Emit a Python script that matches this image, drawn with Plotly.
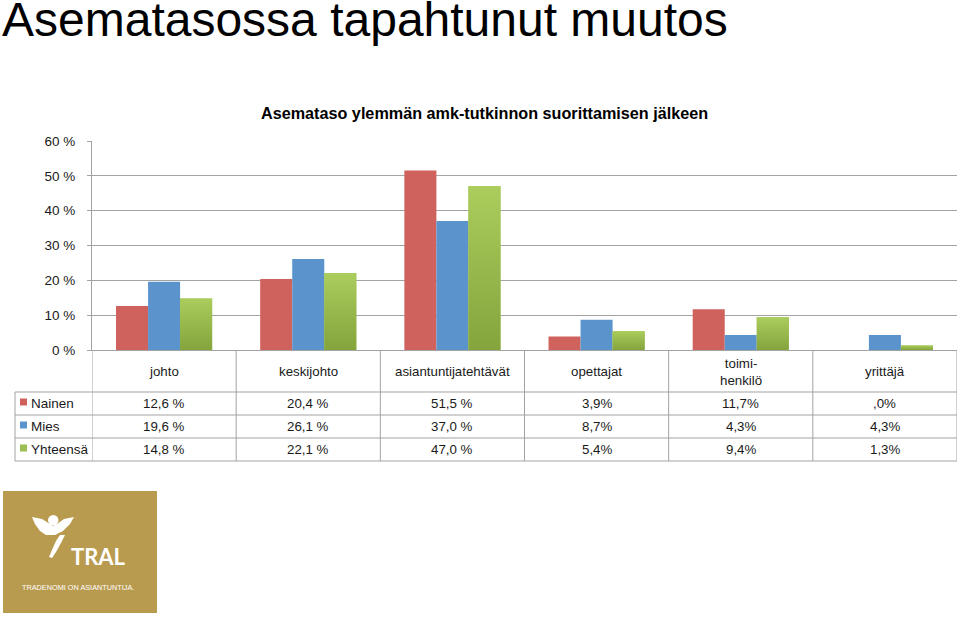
import plotly.graph_objects as go

# ---------------- data ----------------
categories = ["johto", "keskijohto", "asiantuntijatehtävät", "opettajat",
              "toimi-<br>henkilö", "yrittäjä"]
series_names = ["Nainen", "Mies", "Yhteensä"]
nainen = [12.6, 20.4, 51.5, 3.9, 11.7, 0.0]
mies = [19.6, 26.1, 37.0, 8.7, 4.3, 4.3]
yhteensa = [14.8, 22.1, 47.0, 5.4, 9.4, 1.3]
spaced_percent = [True, True, True, False, False, False]
y_tick_values = [0, 10, 20, 30, 40, 50, 60]
y_tick_labels = ["0 %", "10 %", "20 %", "30 %", "40 %", "50 %", "60 %"]

title_text = "Asematasossa tapahtunut muutos"
chart_title = "Asemataso ylemmän amk-tutkinnon suorittamisen jälkeen"
logo_word = "TRAL"
logo_tagline = "TRADENOMI ON ASIANTUNTIJA."

# ---------------- styling ----------------
colors = ["#cf625c", "#5b94cd", "#9cbd52"]
green_dark, green_light = "#84a43c", "#aacd5c"
grid_col = "#a3a3a3"
text_col = "#1a1a1a"
FONT = "Liberation Sans, Arial, sans-serif"

W, H = 960, 620
PL, PR, PT, PB = 92, 957, 141, 350
PW, PH = PR - PL, PB - PT
BARGAP = 1 / 3


def px(x):
    return (x - PL) / PW


def py(y):
    return (PB - y) / PH


def fmt(v, spaced):
    s = f"{v:.1f}".replace(".", ",")
    if s.startswith("0,"):
        s = s[1:]
    return s + (" %" if spaced else "%")


fig = go.Figure()
for name, vals, col in zip(series_names, [nainen, mies, yhteensa], colors):
    fig.add_trace(go.Bar(x=categories, y=vals, name=name,
                         marker=dict(color=col, line=dict(width=0)),
                         showlegend=False, hoverinfo="x+y+name"))

# vertical gradient overlay for the "Yhteensä" bars (same positions as the bar trace)
n = len(categories)
nser = len(series_names)
bw = (1 - BARGAP) / nser
for i, v in enumerate(yhteensa):
    x0 = i - (1 - BARGAP) / 2 + 2 * bw
    x1 = x0 + bw
    fig.add_trace(go.Scatter(
        x=[x0, x1, x1, x0, x0], y=[0, 0, v, v, 0], xaxis="x2",
        mode="lines", line=dict(width=0), fill="toself",
        fillgradient=dict(type="vertical", start=0, stop=v,
                          colorscale=[[0, green_dark], [1, green_light]]),
        showlegend=False, hoverinfo="skip"))

shapes = []
annotations = []

# table horizontal lines
row_lines = [392, 415, 438, 461]
for yl in row_lines:
    shapes.append(dict(type="line", xref="paper", yref="paper",
                       x0=px(15), x1=px(PR), y0=py(yl), y1=py(yl),
                       line=dict(color=grid_col, width=1)))
# left table edge
shapes.append(dict(type="line", xref="paper", yref="paper",
                   x0=px(15), x1=px(15), y0=py(392), y1=py(461),
                   line=dict(color=grid_col, width=1)))
# vertical separators at category boundaries
for k in range(n + 1):
    shapes.append(dict(type="line", xref="x", yref="paper",
                       x0=k - 0.5, x1=k - 0.5, y0=py(PB), y1=py(461),
                       line=dict(color=grid_col, width=1)))

# category headers
for c in categories:
    annotations.append(dict(x=c, xref="x", y=py(371.5), yref="paper",
                            text=c, showarrow=False, yanchor="middle",
                            font=dict(family=FONT, size=13.3, color=text_col)))

# table rows
row_centers = [403.5, 426.5, 449.5]
for name, vals, col, yc in zip(series_names, [nainen, mies, yhteensa], colors, row_centers):
    shapes.append(dict(type="rect", xref="paper", yref="paper",
                       x0=px(20), x1=px(27), y0=py(yc - 5), y1=py(yc + 2),
                       fillcolor=col, line=dict(width=0)))
    annotations.append(dict(x=px(29), xref="paper", y=py(yc), yref="paper",
                            text=name, showarrow=False, xanchor="left", yanchor="middle",
                            font=dict(family=FONT, size=13.5, color=text_col)))
    for c, v, sp in zip(categories, vals, spaced_percent):
        annotations.append(dict(x=c, xref="x", y=py(yc), yref="paper",
                                text=fmt(v, sp), showarrow=False, yanchor="middle",
                                font=dict(family=FONT, size=13.3, color=text_col)))

# titles
annotations.append(dict(x=px(0), xref="paper", y=py(19.5), yref="paper",
                        text=title_text, showarrow=False, xanchor="left", yanchor="middle",
                        font=dict(family=FONT, size=48, color="#000000")))
annotations.append(dict(x=px(484), xref="paper", y=py(113), yref="paper",
                        text="<b>" + chart_title + "</b>", showarrow=False,
                        xanchor="center", yanchor="middle",
                        font=dict(family=FONT, size=16.2, color="#000000")))

# ---------------- logo ----------------
gold = "#b99b50"
shapes.append(dict(type="rect", xref="paper", yref="paper",
                   x0=px(3), x1=px(157), y0=py(613), y1=py(491),
                   fillcolor=gold, line=dict(width=0), layer="above"))


def poly(points):
    return "M " + " L ".join(f"{px(a):.5f},{py(b):.5f}" for a, b in points) + " Z"


wing_pts = [(32, 517), (42, 519), (50, 524), (53, 526), (57, 524), (64, 519),
            (74, 517), (70, 524), (63, 531), (55, 535), (46, 535), (40, 531), (35, 524)]
stem_pts = [(60, 535), (65, 535), (61, 543), (56, 552), (52, 558), (49, 557),
            (52, 550), (56, 541)]
for pts in (wing_pts, stem_pts):
    shapes.append(dict(type="path", xref="paper", yref="paper", path=poly(pts),
                       fillcolor="white", line=dict(width=0), layer="above"))
shapes.append(dict(type="circle", xref="paper", yref="paper",
                   x0=px(48), x1=px(58.5), y0=py(525.5), y1=py(515),
                   fillcolor="white", line=dict(width=0), layer="above"))
annotations.append(dict(x=px(98.5), xref="paper", y=py(556), yref="paper",
                        text="<b>" + logo_word + "</b>", showarrow=False,
                        xanchor="center", yanchor="middle",
                        font=dict(family="Lato, sans-serif", size=22, color="white")))
annotations.append(dict(x=px(78), xref="paper", y=py(587), yref="paper",
                        text=logo_tagline, showarrow=False, xanchor="center", yanchor="middle",
                        font=dict(family=FONT, size=7.3, color="white")))

fig.update_layout(
    width=W, height=H, autosize=False,
    margin=dict(l=PL, r=W - PR, t=PT, b=H - PB, pad=0),
    paper_bgcolor="white", plot_bgcolor="white",
    barmode="group", bargap=BARGAP, bargroupgap=0,
    shapes=shapes, annotations=annotations,
    xaxis=dict(showticklabels=False, ticks="", showgrid=False, zeroline=False,
               showline=True, linecolor=grid_col, linewidth=1,
               range=[-0.5, n - 0.5], fixedrange=True),
    xaxis2=dict(overlaying="x", range=[-0.5, n - 0.5], visible=False,
                showgrid=False, zeroline=False, fixedrange=True),
    yaxis=dict(range=[0, 60], tickvals=y_tick_values, ticktext=y_tick_labels,
               showgrid=True, gridcolor=grid_col, gridwidth=1, zeroline=False,
               showline=True, linecolor=grid_col, linewidth=1,
               ticks="outside", ticklen=4, tickcolor=grid_col,
               ticklabelstandoff=9,
               tickfont=dict(family=FONT, size=13.5, color=text_col),
               fixedrange=True),
    font=dict(family=FONT),
)

fig.write_html("out.html", config={"displayModeBar": False},
               post_script="document.body.style.margin='0';")
